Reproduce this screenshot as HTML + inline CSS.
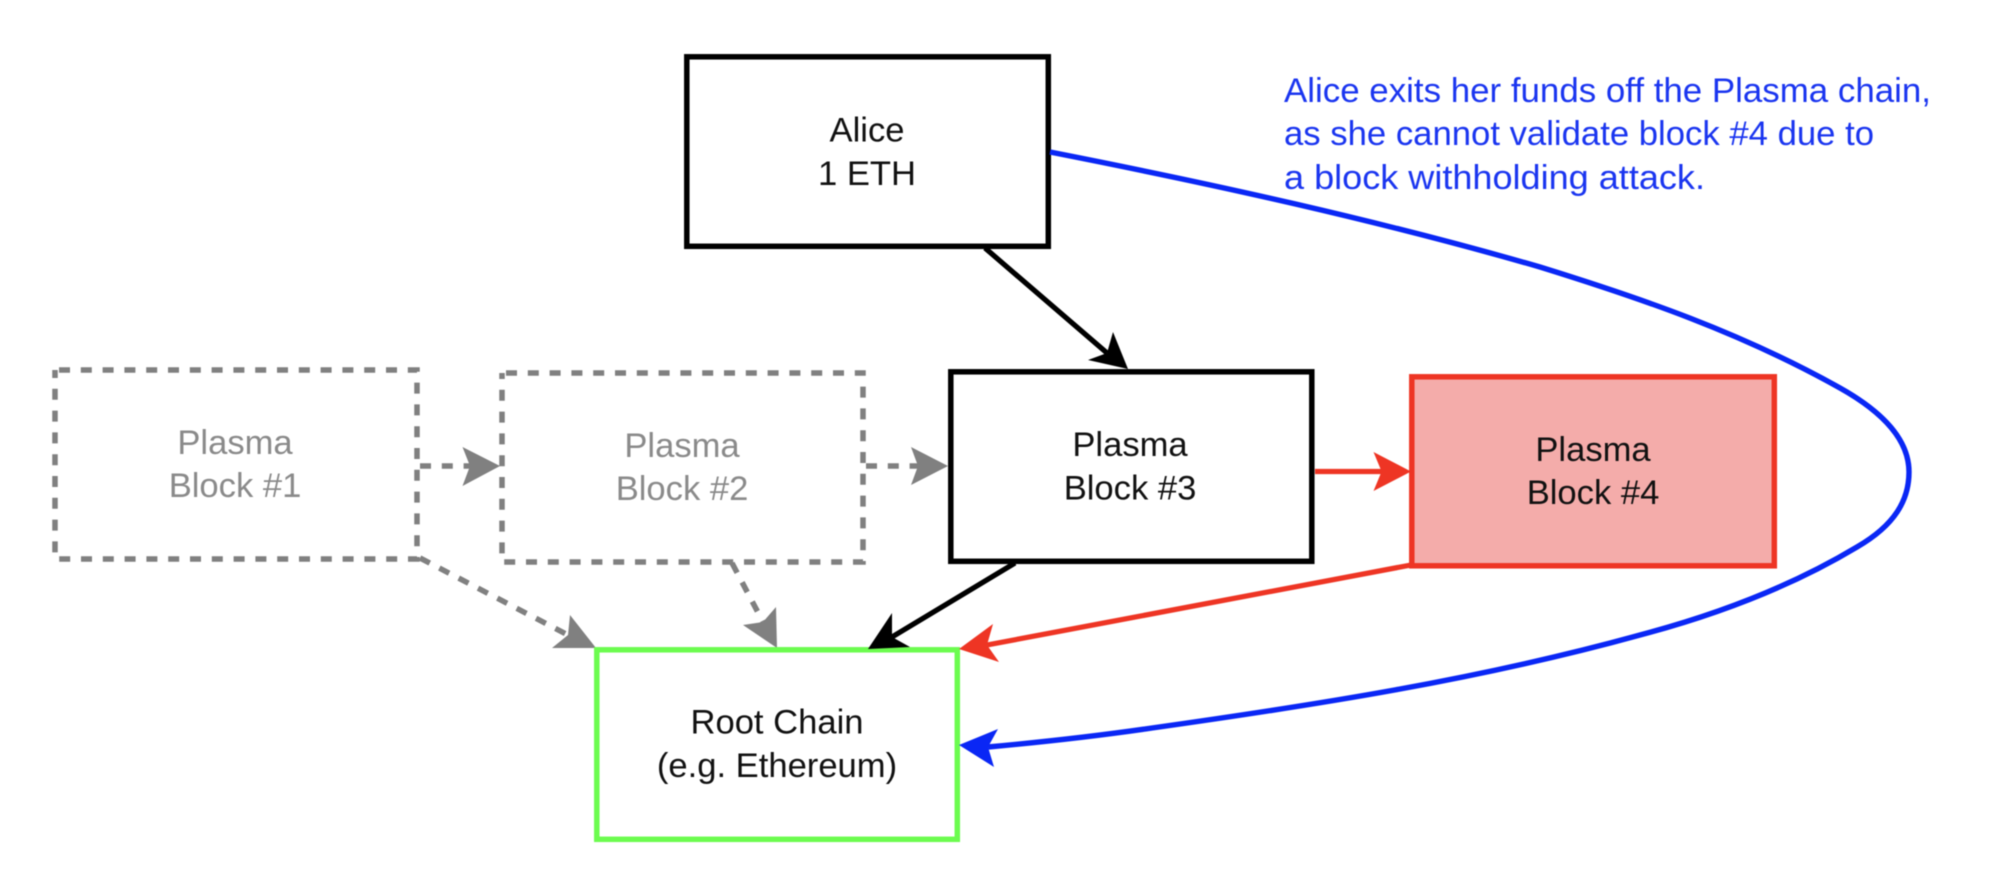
<!DOCTYPE html>
<html>
<head>
<meta charset="utf-8">
<style>
html,body{margin:0;padding:0;background:#fff;width:1994px;height:892px;overflow:hidden}
svg{display:block;filter:blur(0.6px)}
text{font-family:"Liberation Sans",sans-serif;font-size:34.6px;text-anchor:middle}
.d{fill:none;stroke:#808080;stroke-width:5.5;stroke-dasharray:11 10.8}
</style>
</head>
<body>
<svg width="1994" height="892" viewBox="0 0 1994 892" xmlns="http://www.w3.org/2000/svg">
<rect width="1994" height="892" fill="#fff"/>

<!-- gray dashed boxes -->
<rect class="d" x="55" y="370" width="362" height="189" stroke-dashoffset="-4"/>
<rect class="d" x="502" y="373" width="361" height="189" stroke-dashoffset="-4"/>

<!-- gray connectors -->
<path class="d" d="M420 466H474"/>
<path d="M500 466L462.5 447L470 466L462.5 486Z" fill="#808080"/>
<path class="d" d="M866 466H920"/>
<path d="M948 466L911 447L918 466L911 485Z" fill="#808080"/>
<path class="d" d="M420 558L568 635"/>
<path d="M596 648L570 615L568 635L552 648Z" fill="#808080"/>
<path class="d" d="M732 563L763 622"/>
<path d="M777 648L776 607L763 622L743 625Z" fill="#808080"/>

<!-- solid boxes -->
<rect x="686.8" y="56.8" width="361.5" height="189.5" fill="#fff" stroke="#000" stroke-width="5.5"/>
<rect x="950.8" y="371.8" width="361" height="189.5" fill="#fff" stroke="#000" stroke-width="5.5"/>
<rect x="1411.8" y="376.8" width="362.5" height="189" fill="#f4acaa" stroke="#ee3524" stroke-width="5.5"/>
<rect x="596.8" y="649.8" width="360.5" height="189.5" fill="#fff" stroke="#6cfc4f" stroke-width="5.5"/>

<!-- black connectors -->
<path d="M985 248L1107 353" fill="none" stroke="#000" stroke-width="5.2"/>
<path d="M1128 369L1113 332L1107 353L1088 360Z" fill="#000"/>
<path d="M1015 563L892 637" fill="none" stroke="#000" stroke-width="5.2"/>
<path d="M868 649L892 613L892 637L910 647Z" fill="#000"/>

<!-- red connectors -->
<path d="M1315 471.5H1382" fill="none" stroke="#ee3524" stroke-width="5.2"/>
<path d="M1411 471.5L1373.5 452L1381.6 471.5L1373.5 491Z" fill="#ee3524"/>
<path d="M1411 565L987 645" fill="none" stroke="#ee3524" stroke-width="5.2"/>
<path d="M959 649L993 624L987 645L999 662Z" fill="#ee3524"/>

<!-- blue connector -->
<path d="M1050 152C1213 184 1377 220 1540 267C1640 298 1740 332 1840 388C1890 416 1909 445 1909 472C1909 500 1895 525 1857 547C1787 589 1712 616 1640 635C1477 680 1315 705 1152 728C1097 736 1043 742 988 747" fill="none" stroke="#0a27f5" stroke-width="5.4"/>
<path d="M959 745L998 729L988 747L994 767Z" fill="#0a27f5"/>

<!-- labels -->
<text x="867" y="141.5" fill="#111">Alice</text>
<text x="867" y="185" fill="#111">1 ETH</text>
<text x="235" y="454" fill="#8a8a8a">Plasma</text>
<text x="235" y="497" fill="#8a8a8a">Block #1</text>
<text x="682" y="457" fill="#8a8a8a">Plasma</text>
<text x="682" y="500" fill="#8a8a8a">Block #2</text>
<text x="1130" y="456" fill="#111">Plasma</text>
<text x="1130" y="499.5" fill="#111">Block #3</text>
<text x="1593" y="461" fill="#111">Plasma</text>
<text x="1593" y="504" fill="#111">Block #4</text>
<text x="777" y="733.5" fill="#111">Root Chain</text>
<text x="777" y="777" fill="#111">(e.g. Ethereum)</text>

<g fill="#1a35f0">
<text x="1284" y="102" style="text-anchor:start" textLength="647" lengthAdjust="spacingAndGlyphs">Alice exits her funds off the Plasma chain,</text>
<text x="1284" y="145" style="text-anchor:start" textLength="590" lengthAdjust="spacingAndGlyphs">as she cannot validate block #4 due to</text>
<text x="1284" y="189" style="text-anchor:start" textLength="421" lengthAdjust="spacingAndGlyphs">a block withholding attack.</text>
</g>
</svg>
</body>
</html>
